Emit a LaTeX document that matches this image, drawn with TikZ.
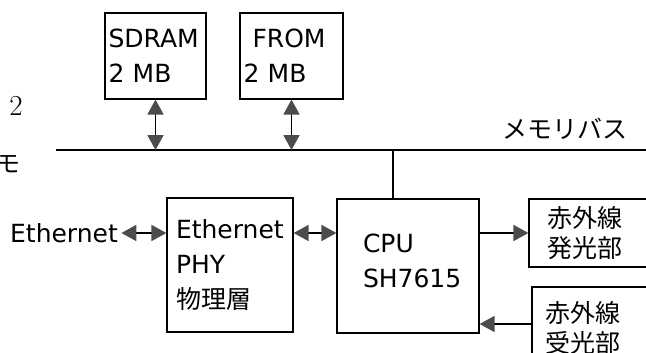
\documentclass[tikz,border=0pt]{standalone}
\usepackage{fontspec}
\newfontfamily\dvsans{DejaVu Sans}
\newfontfamily\jpfont{Noto Sans CJK JP}
\usetikzlibrary{arrows.meta}
\definecolor{tipgray}{gray}{0.3}

\begin{document}
\begin{tikzpicture}[x=1pt,y=-1pt, every node/.style={font=\dvsans\fontsize{25}{35}\selectfont},
  blk/.style={draw,line width=1.2pt,inner sep=0pt,align=left},
  jp/.style={font=\jpfont\fontsize{25}{30}\selectfont},
  bidir/.style={{Triangle[length=15pt,width=16pt,color=tipgray]}-{Triangle[length=15pt,width=16pt,color=tipgray]},line width=1.8pt},
  oneway/.style={-{Triangle[length=15pt,width=16pt,color=tipgray]},line width=1.8pt}]
\useasboundingbox (0,0) rectangle (646,353);
\clip (0,0) rectangle (646,353);
% memories on the bus
\node[blk,minimum width=101pt,minimum height=86pt,text width=94pt] (sdram) at (155.5,56) {SDRAM\\2 MB};
\node[blk,minimum width=103pt,minimum height=86pt,text width=96pt] (from) at (291.5,56) {\hspace*{9pt}FROM\\2 MB};
\coordinate (busL) at (56,150);
\coordinate (busR) at (646,150);
\coordinate (tap) at (393,150);
\draw[line width=2pt] (busL) -- (busR);
\node[font=\jpfont\fontsize{25}{30}\selectfont] (buslbl) at (565,129) {メモリバス};
\draw[bidir] (sdram.south) -- (sdram.south |- busL);
\draw[bidir] (from.south) -- (from.south |- busL);
% processing blocks
\node (eth) at (64,233) {Ethernet};
\node[blk,minimum width=126pt,minimum height=134pt,text width=108pt] (phy) at (230,265) {Ethernet\\PHY\\{\jpfont 物理層}};
\node[blk,minimum width=142pt,minimum height=134pt,text width=90pt] (cpu) at (408,266) {CPU\\SH7615\\[-25pt]\mbox{}};
\node[blk,jp,minimum width=151pt,minimum height=68pt,text width=115pt] (tx) at (604.5,233) {\raisebox{-4pt}{赤外線}\\\raisebox{-4pt}{発光部}};
\node[blk,jp,minimum width=148pt,minimum height=82pt,text width=122pt] (rx) at (606,328) {赤外線\\受光部};
\draw[line width=1.8pt] (tap) -- (tap |- cpu.north);
\draw[bidir] (eth.east) -- (eth.east -| phy.west);
\draw[bidir] (phy.east |- eth.east) -- (cpu.west |- eth.east);
\draw[oneway] (cpu.east |- eth.east) -- (tx.west |- eth.east);
\draw[oneway] ([yshift=4pt]rx.west) -- ([yshift=4pt]rx.west -| cpu.east);
% cut-off text at the left margin
\node[font=\rmfamily\fontsize{29}{29}\selectfont] (pgno) at (16,106) {2};
\node[font=\jpfont\fontsize{24}{24}\selectfont] (mo) at (8,164) {モ};
\end{tikzpicture}
\end{document}
